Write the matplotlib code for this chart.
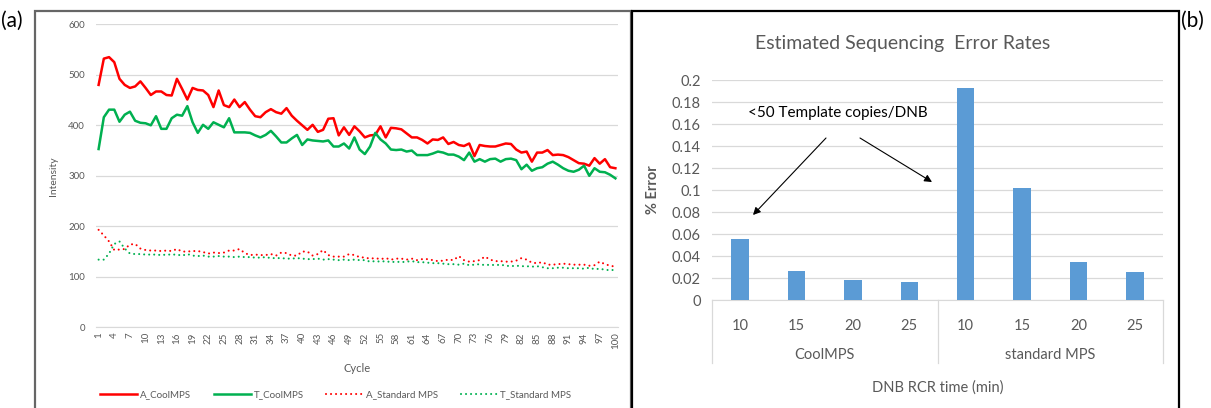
import matplotlib
matplotlib.use("Agg")
import matplotlib.pyplot as plt
import matplotlib.transforms as mtransforms
from matplotlib.patches import Rectangle
from matplotlib.lines import Line2D

plt.rcParams['font.family'] = ['Lato', 'DejaVu Sans']

# (a) intensity per cycle
cycles = list(range(1, 101))
a_cool = [480, 532, 535, 525, 492, 480, 474, 477, 487, 474,
          460, 467, 467, 460, 459, 492, 472, 451, 474, 470,
          469, 460, 436, 469, 440, 436, 451, 436, 446, 431,
          418, 416, 426, 432, 426, 423, 434, 419, 409, 400,
          391, 401, 387, 391, 413, 414, 380, 396, 381, 398,
          388, 376, 380, 381, 398, 376, 395, 394, 392, 384,
          376, 376, 371, 364, 372, 371, 376, 363, 367, 361,
          359, 364, 339, 361, 359, 358, 358, 361, 364, 363,
          352, 346, 348, 328, 346, 346, 351, 341, 342, 341,
          337, 331, 325, 324, 320, 335, 324, 333, 317, 315]
t_cool = [353, 416, 431, 431, 407, 421, 427, 409, 405, 404,
          400, 418, 393, 393, 414, 421, 419, 438, 406, 385,
          401, 393, 406, 401, 396, 414, 386, 386, 386, 385,
          380, 376, 381, 389, 378, 366, 366, 374, 381, 361,
          372, 370, 369, 368, 370, 358, 358, 364, 354, 376,
          352, 343, 358, 385, 372, 364, 352, 351, 352, 348,
          350, 341, 341, 341, 344, 348, 346, 342, 342, 338,
          331, 346, 328, 333, 328, 333, 334, 328, 333, 334,
          331, 313, 322, 310, 315, 317, 324, 328, 322, 315,
          310, 308, 312, 320, 300, 315, 308, 307, 302, 295]
a_std = [193, 182, 170, 153, 154, 155, 164, 165, 156, 153,
         152, 152, 151, 152, 151, 155, 150, 150, 151, 151,
         149, 146, 148, 147, 148, 152, 152, 155, 147, 143,
         144, 143, 143, 145, 142, 148, 147, 142, 142, 150,
         150, 142, 145, 153, 143, 140, 140, 140, 145, 143,
         139, 138, 136, 137, 135, 137, 134, 136, 136, 134,
         136, 133, 135, 135, 133, 131, 132, 134, 133, 141,
         133, 130, 131, 133, 140, 134, 131, 131, 130, 130,
         132, 137, 134, 128, 127, 129, 124, 124, 125, 126,
         125, 124, 124, 124, 122, 123, 130, 125, 122, 120]
t_std = [134, 134, 146, 165, 170, 156, 146, 145, 145, 144,
         144, 144, 143, 144, 144, 144, 142, 145, 142, 141,
         142, 140, 140, 141, 140, 140, 139, 140, 139, 139,
         138, 138, 139, 137, 137, 137, 136, 136, 137, 136,
         135, 135, 136, 134, 135, 134, 133, 134, 133, 134,
         133, 133, 130, 131, 130, 131, 129, 130, 129, 130,
         131, 129, 129, 128, 127, 127, 126, 125, 125, 124,
         126, 123, 124, 125, 123, 124, 123, 124, 122, 121,
         122, 121, 121, 120, 121, 119, 117, 117, 118, 118,
         117, 117, 117, 116, 118, 115, 116, 114, 113, 114]

# (b) error rates
rcr_times = ['10', '15', '20', '25', '10', '15', '20', '25']
groups = ['CoolMPS', 'standard MPS']
error_rates = [0.0552, 0.0267, 0.018, 0.0167, 0.1925, 0.1015, 0.0348, 0.0258]

W, H = 1211, 408
grey = '#595959'
grid = '#D9D9D9'

fig = plt.figure(figsize=(W / 100, H / 100), dpi=100)

# ---- panel (a)
ax1 = fig.add_axes([96 / W, (H - 327.3) / H, 522 / W, 303 / H])
ax1.plot(cycles, a_cool, color='#FF0000', lw=1.8, label='A_CoolMPS')
ax1.plot(cycles, t_cool, color='#00B050', lw=1.8, label='T_CoolMPS')
dots = (0, (0.01, 2.4))
ax1.plot(cycles, a_std, color='#FF0000', lw=1.5, ls=dots, dash_capstyle='round',
         label='A_Standard MPS')
ax1.plot(cycles, t_std, color='#00B050', lw=1.5, ls=dots, dash_capstyle='round',
         label='T_Standard MPS')
ax1.set_xlim(0.5, 100.5)
ax1.set_ylim(0, 600)
ax1.set_yticks(range(0, 601, 100))
ax1.set_xticks(cycles[::3])
ax1.set_xticklabels([str(c) for c in cycles[::3]], rotation=90)
ax1.tick_params(length=0, labelsize=7, labelcolor=grey)
ax1.tick_params(axis='y', pad=8)
ax1.grid(axis='y', color=grid, lw=0.9)
ax1.set_axisbelow(True)
for s in ['top', 'left', 'right']:
    ax1.spines[s].set_visible(False)
ax1.spines['bottom'].set_color(grid)
ax1.set_ylabel('Intensity', fontsize=7.5, color=grey)
ax1.yaxis.set_label_coords(-0.073, 0.5)
ax1.set_xlabel('Cycle', fontsize=8, color=grey)
ax1.xaxis.set_label_coords(0.5, -0.118)
ax1.legend(loc='center', bbox_to_anchor=(336 / W, 1 - 395 / H),
           bbox_transform=fig.transFigure, ncol=4, frameon=False,
           fontsize=7, labelcolor=grey, handlelength=3.8,
           columnspacing=2.3, handletextpad=0.3)

# ---- panel (b)
ax2 = fig.add_axes([712 / W, (H - 300) / H, 451 / W, 220 / H])
xs = list(range(len(error_rates)))
ax2.bar(xs, error_rates, width=0.31, color='#5B9BD5', zorder=3)
ax2.set_xlim(-0.5, 7.5)
ax2.set_ylim(0, 0.2)
yt = [i * 0.02 for i in range(11)]
ax2.set_yticks(yt)
ax2.set_yticklabels(['0', '0.02', '0.04', '0.06', '0.08', '0.1',
                     '0.12', '0.14', '0.16', '0.18', '0.2'])
ax2.set_xticks(xs)
ax2.set_xticklabels(rcr_times)
ax2.tick_params(length=0, labelsize=10.5, labelcolor=grey)
ax2.tick_params(axis='x', pad=14)
ax2.tick_params(axis='y', pad=8)
ax2.grid(axis='y', color=grid, lw=0.9)
ax2.set_axisbelow(True)
for s in ['top', 'left', 'right']:
    ax2.spines[s].set_visible(False)
ax2.spines['bottom'].set_color(grid)

trans = mtransforms.blended_transform_factory(ax2.transData, ax2.transAxes)
for i, g in enumerate(groups):
    ax2.text(1.5 + 4 * i, -0.25, g, transform=trans, ha='center', va='center',
             fontsize=10.5, color=grey)
for xv in [-0.5, 3.5, 7.5]:
    ax2.add_line(Line2D([xv, xv], [0, -0.286], transform=trans, color=grid,
                        lw=0.9, clip_on=False))
ax2.set_xlabel('DNB RCR time (min)', fontsize=10.5, color=grey)
ax2.xaxis.set_label_coords(0.5, -0.364)
ax2.set_ylabel('% Error', fontsize=10.5, color=grey, fontweight='bold')
ax2.yaxis.set_label_coords(-0.115, 0.5)

fig.text(903 / W, 1 - 43 / H, 'Estimated Sequencing  Error Rates', ha='center',
         va='center', fontsize=14, color=grey)
fig.text(838 / W, 1 - 113 / H, '<50 Template copies/DNB', ha='center',
         va='center', fontsize=11, color='black')
arrow = dict(arrowstyle='-|>', color='black', lw=0.8, mutation_scale=11,
             shrinkA=0, shrinkB=0)
ax2.annotate('', xy=(753, H - 215), xytext=(826, H - 138),
             xycoords='figure pixels', textcoords='figure pixels', arrowprops=arrow)
ax2.annotate('', xy=(932, H - 182), xytext=(860, H - 138),
             xycoords='figure pixels', textcoords='figure pixels', arrowprops=arrow)

# panel frames and letters
fig.add_artist(Rectangle((35 / W, -0.1), (631 - 35) / W, 0.1 + 1 - 11 / H,
                         transform=fig.transFigure, fill=False,
                         edgecolor='#666666', lw=1.6))
fig.add_artist(Rectangle((632 / W, -0.1), (1179 - 632) / W, 0.1 + 1 - 11 / H,
                         transform=fig.transFigure, fill=False,
                         edgecolor='black', lw=1.6))
fig.text(1 / W, 1 - 21 / H, '(a)', ha='left', va='center', fontsize=15)
fig.text(1181 / W, 1 - 21 / H, '(b)', ha='left', va='center', fontsize=15)

fig.savefig('out.png', dpi=100)
